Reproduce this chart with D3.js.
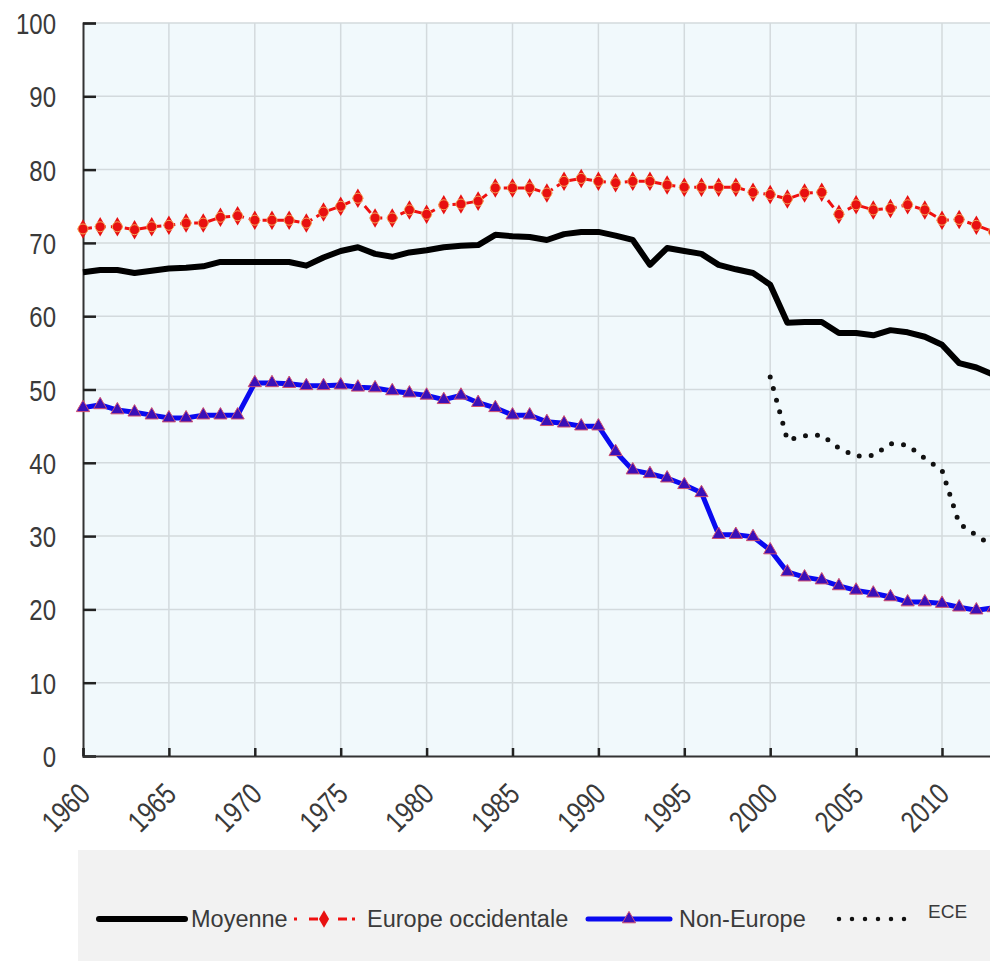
<!DOCTYPE html>
<html>
<head>
<meta charset="utf-8">
<script src="https://cdn.jsdelivr.net/npm/d3@7"></script>
<style>
  body { margin: 0; background: #ffffff; }
  svg { display: block; }
  .tick-label { font-family: "Liberation Sans", Arial, sans-serif; font-size: 30px; fill: #3a3a3a; }
  .legend-text { font-family: "Liberation Sans", Arial, sans-serif; font-size: 23.5px; fill: #3a3a3a; }
</style>
</head>
<body>
<svg width="990" height="961"></svg>
<script>
// years 1960 - 2013
var years = d3.range(1960, 2014);

var moyenne = [66.0, 66.3, 66.3, 65.9, 66.2, 66.5, 66.6, 66.8, 67.4, 67.4,
               67.4, 67.4, 67.4, 66.9, 68.0, 68.9, 69.4, 68.5, 68.1, 68.7,
               69.0, 69.4, 69.6, 69.7, 71.1, 70.9, 70.8, 70.4, 71.2, 71.5,
               71.5, 71.0, 70.4, 67.0, 69.3, 68.9, 68.5, 67.0, 66.4, 65.9,
               64.3, 59.1, 59.2, 59.2, 57.7, 57.7, 57.4, 58.1, 57.8, 57.2,
               56.1, 53.6, 53.0, 52.0];

var europeOcc = [71.9, 72.2, 72.2, 71.8, 72.2, 72.4, 72.7, 72.7, 73.5, 73.7,
                 73.1, 73.1, 73.1, 72.7, 74.2, 75.0, 76.1, 73.4, 73.4, 74.5,
                 73.9, 75.2, 75.3, 75.7, 77.5, 77.5, 77.5, 76.8, 78.4, 78.8,
                 78.4, 78.2, 78.4, 78.4, 77.9, 77.6, 77.6, 77.6, 77.6, 76.9,
                 76.6, 76.0, 76.8, 76.9, 73.9, 75.2, 74.5, 74.7, 75.2, 74.5,
                 73.1, 73.2, 72.4, 71.5];

var nonEurope = [47.5, 47.9, 47.2, 46.9, 46.5, 46.1, 46.1, 46.5, 46.5, 46.5,
                 50.9, 50.9, 50.8, 50.5, 50.5, 50.6, 50.3, 50.2, 49.8, 49.5,
                 49.2, 48.6, 49.2, 48.2, 47.5, 46.5, 46.5, 45.6, 45.4, 45.0,
                 45.0, 41.5, 39.0, 38.5, 37.9, 37.0, 35.9, 30.2, 30.2, 29.9,
                 28.1, 25.1, 24.4, 24.0, 23.2, 22.6, 22.2, 21.7, 21.0, 21.0,
                 20.8, 20.3, 19.9, 20.2];

var eceYears = d3.range(2000, 2014);
var ece = [51.7, 43.1, 43.7, 43.8, 42.0, 40.9, 41.0, 42.6, 42.4, 40.6,
           39.0, 31.7, 30.1, 28.6];

var yTicks = d3.range(0, 101, 10);
var xTicks = d3.range(1960, 2011, 5);

var SETTINGS = { left: 83, top: 23, bottom: 756, yearWidth: 17.18 };

var svg = d3.select("svg");

var x = d3.scaleLinear()
    .domain([1960, 2014])
    .range([SETTINGS.left, SETTINGS.left + 54 * SETTINGS.yearWidth]);

var y = d3.scaleLinear()
    .domain([0, 100])
    .range([SETTINGS.bottom, SETTINGS.top]);

// plot background
svg.append("rect")
    .attr("x", x(1960)).attr("y", y(100))
    .attr("width", x(2014) - x(1960)).attr("height", y(0) - y(100))
    .style("fill", "#f1f9fc");

// grid
var grid = svg.append("g");
grid.selectAll(".hgrid")
    .data(yTicks.slice(1))
  .enter().append("line")
    .attr("x1", x(1960)).attr("x2", x(2014))
    .attr("y1", function(d) { return y(d); })
    .attr("y2", function(d) { return y(d); })
    .style("stroke", "#d3dadd").style("stroke-width", 1.5);
grid.selectAll(".vgrid")
    .data(xTicks.slice(1))
  .enter().append("line")
    .attr("x1", function(d) { return x(d); })
    .attr("x2", function(d) { return x(d); })
    .attr("y1", y(100)).attr("y2", y(0))
    .style("stroke", "#d3dadd").style("stroke-width", 1.5);

// axes
var yAxis = svg.append("g")
    .attr("transform", "translate(" + x(1960) + ",0)")
    .call(d3.axisRight(y).tickValues(yTicks).tickSize(13).tickFormat(""));
var xAxis = svg.append("g")
    .attr("transform", "translate(0," + y(0) + ")")
    .call(d3.axisTop(x).tickValues(xTicks).tickSize(8).tickFormat(""));
[yAxis, xAxis].forEach(function(a) {
  a.select(".domain").style("stroke", "#333").style("stroke-width", 2);
  a.selectAll(".tick line").style("stroke", "#222").style("stroke-width", 2.5);
});

svg.selectAll(".ylab")
    .data(yTicks)
  .enter().append("text")
    .attr("class", "tick-label")
    .attr("text-anchor", "end")
    .attr("transform", function(d) {
      return "translate(56," + (y(d) + 11) + ") scale(0.8,1)"; })
    .text(function(d) { return d; });

svg.selectAll(".xlab")
    .data(xTicks)
  .enter().append("text")
    .attr("class", "tick-label")
    .attr("text-anchor", "end")
    .attr("transform", function(d) {
      return "translate(" + (x(d) + 9) + "," + (y(0) + 40) + ") rotate(-45) scale(0.8,1)"; })
    .text(function(d) { return d; });

// lines
var plot = svg.append("g");
var line = d3.line()
    .x(function(d) { return x(d[0]); })
    .y(function(d) { return y(d[1]); });

function pairs(xs, vs) { return xs.map(function(v, i) { return [v, vs[i]]; }); }

var eceData = pairs(eceYears, ece);
var moyData = pairs(years, moyenne);
var eurData = pairs(years, europeOcc);
var nonData = pairs(years, nonEurope);

plot.append("path")
    .attr("d", line(eceData))
    .style("fill", "none").style("stroke", "#111")
    .style("stroke-width", 5).style("stroke-linecap", "round")
    .style("stroke-dasharray", "0,12");

plot.append("path")
    .attr("d", line(nonData))
    .style("fill", "none").style("stroke", "#0a0af0").style("stroke-width", 5);
plot.selectAll(".tri")
    .data(nonData)
  .enter().append("path")
    .attr("transform", function(d) { return "translate(" + x(d[0]) + "," + y(d[1]) + ")"; })
    .attr("d", d3.symbol().type(d3.symbolTriangle).size(75))
    .style("fill", "#3a10b8").style("stroke", "#d05070").style("stroke-width", 1);

plot.append("path")
    .attr("d", line(moyData))
    .style("fill", "none").style("stroke", "#000")
    .style("stroke-width", 6).style("stroke-linejoin", "round");

plot.append("path")
    .attr("d", line(eurData))
    .style("fill", "none").style("stroke", "#f01010")
    .style("stroke-width", 3).style("stroke-dasharray", "9,5");
plot.selectAll(".dia")
    .data(eurData)
  .enter().append("path")
    .attr("transform", function(d) { return "translate(" + x(d[0]) + "," + y(d[1]) + ")"; })
    .attr("d", d3.symbol().type(d3.symbolDiamond).size(110))
    .style("fill", "#e81010");
plot.selectAll(".dot")
    .data(eurData)
  .enter().append("circle")
    .attr("cx", function(d) { return x(d[0]); })
    .attr("cy", function(d) { return y(d[1]); })
    .attr("r", 5)
    .style("fill", "#e81010").style("stroke", "#f5d070").style("stroke-width", 0.8);

// legend
var legendY = 919;
svg.append("rect")
    .attr("x", 78).attr("y", 850).attr("width", 990 - 78).attr("height", 111)
    .style("fill", "#f2f2f2");

svg.append("line")
    .attr("x1", 99).attr("x2", 185).attr("y1", legendY).attr("y2", legendY)
    .style("stroke", "#000").style("stroke-width", 6).style("stroke-linecap", "round");
svg.append("text").attr("class", "legend-text")
    .attr("x", 191).attr("y", legendY + 8).text("Moyenne");

svg.append("line")
    .attr("x1", 294).attr("x2", 356).attr("y1", legendY).attr("y2", legendY)
    .style("stroke", "#f01010").style("stroke-width", 3).style("stroke-dasharray", "3,12,9,5");
svg.append("path")
    .attr("transform", "translate(324," + legendY + ")")
    .attr("d", d3.symbol().type(d3.symbolDiamond).size(90))
    .style("fill", "#e81010");
svg.append("text").attr("class", "legend-text")
    .attr("x", 367).attr("y", legendY + 8).text("Europe occidentale");

svg.append("line")
    .attr("x1", 588).attr("x2", 670).attr("y1", legendY).attr("y2", legendY)
    .style("stroke", "#0a0af0").style("stroke-width", 5).style("stroke-linecap", "round");
svg.append("path")
    .attr("transform", "translate(629," + legendY + ")")
    .attr("d", d3.symbol().type(d3.symbolTriangle).size(75))
    .style("fill", "#3a10b8").style("stroke", "#d05070").style("stroke-width", 1);
svg.append("text").attr("class", "legend-text")
    .attr("x", 679).attr("y", legendY + 8).text("Non-Europe");

svg.append("line")
    .attr("x1", 839).attr("x2", 917).attr("y1", legendY).attr("y2", legendY)
    .style("stroke", "#111").style("stroke-width", 4.5).style("stroke-linecap", "round")
    .style("stroke-dasharray", "0,13");
svg.append("text").attr("class", "legend-text")
    .attr("x", 928).attr("y", legendY - 1).style("font-size", "19px").text("ECE");
</script>
</body>
</html>
